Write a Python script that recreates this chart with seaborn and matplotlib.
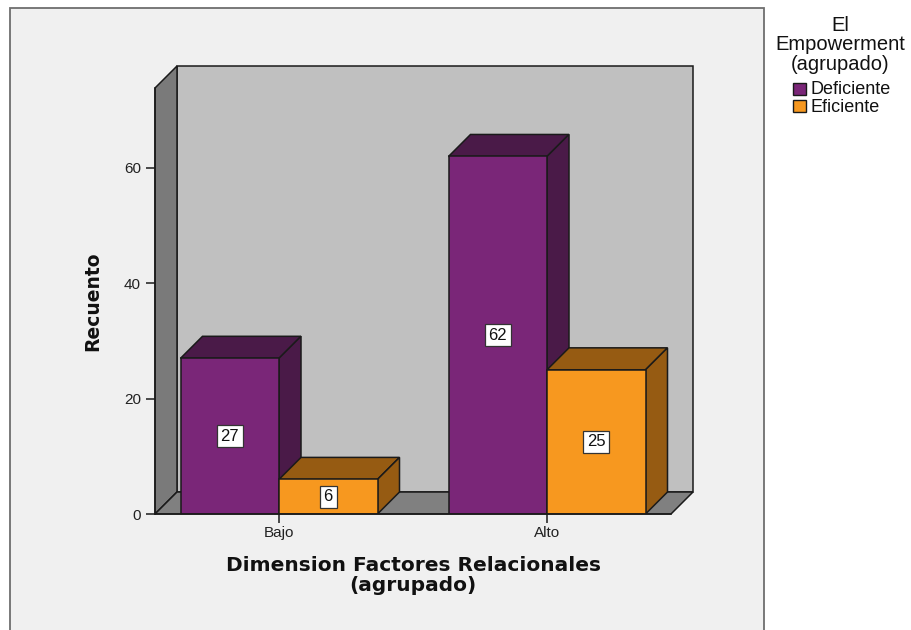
import matplotlib
matplotlib.use("Agg")
import matplotlib.pyplot as plt
from matplotlib.patches import Polygon, Rectangle
import seaborn as sns
import pandas as pd

# Counts per relational-factors level, split by empowerment group
categories = ["Bajo", "Alto"]
groups = ["Deficiente", "Eficiente"]
deficiente = [27, 62]
eficiente = [6, 25]
y_ticks = [0, 20, 40, 60]

front_colors = {"Deficiente": "#7A2678", "Eficiente": "#F7981F"}
shade_colors = {"Deficiente": "#4A1A48", "Eficiente": "#965B12"}

df = pd.DataFrame({
    "Dimension": categories * 2,
    "Grupo": [groups[0]] * 2 + [groups[1]] * 2,
    "Recuento": deficiente + eficiente,
})

sns.set_theme(style="white")
plt.rcParams["font.family"] = ["Liberation Sans", "DejaVu Sans"]

W, H = 912, 630
fig = plt.figure(figsize=(W / 100, H / 100), dpi=100)
fig.patch.set_facecolor("white")

# light panel behind the chart
panel = Rectangle((10 / W, -0.05), (764 - 10) / W, (H - 8) / H + 0.05,
                  transform=fig.transFigure, facecolor="#F0F0F0",
                  edgecolor="#6E6E6E", linewidth=1.3, zorder=-5)
fig.patches.append(panel)

# axes box: front plane x 155..671 px, y 514 (zero) up to back wall top 66 px
ax = fig.add_axes([155 / W, (H - 514) / H, (693 - 155) / W, (514 - 66) / H])
ax.set_facecolor("none")
ax.set_zorder(2)

px_per_x = 268.0          # pixels per category step
px_per_y = (514 - 168) / 60.0
x0 = -124 / px_per_x
x1 = 1 + 124 / px_per_x
ytop = (514 - 88) / px_per_y
dx = 22 / px_per_x
dy = 22 / px_per_y

edge = "#1A1A1A"
lw = 1.1

sns.barplot(data=df, x="Dimension", y="Recuento", hue="Grupo", order=categories,
            hue_order=groups, palette=front_colors, width=197 / px_per_x, gap=0,
            saturation=1, edgecolor=edge, linewidth=lw, ax=ax, legend=False, zorder=3)

ax.set_xlim(x0, x0 + (693 - 155) / px_per_x)
ax.set_ylim(0, (514 - 66) / px_per_y)

# back wall, side wall and floor
ax.add_patch(Polygon([(x0 + dx, dy), (x1 + dx, dy), (x1 + dx, ytop + dy), (x0 + dx, ytop + dy)],
                     closed=True, facecolor="#C0C0C0", edgecolor=edge, lw=lw, zorder=1, clip_on=False))
ax.add_patch(Polygon([(x0, 0), (x0 + dx, dy), (x0 + dx, ytop + dy), (x0, ytop)],
                     closed=True, facecolor="#7A7A7A", edgecolor=edge, lw=lw, zorder=1, clip_on=False))
ax.add_patch(Polygon([(x0, 0), (x1, 0), (x1 + dx, dy), (x0 + dx, dy)],
                     closed=True, facecolor="#808080", edgecolor=edge, lw=lw, zorder=1, clip_on=False))

# draw the top and side faces of each bar, then its value label
bars = [p for p in ax.patches if isinstance(p, Rectangle)]
series = [g for g in groups for _ in categories]
for bar, grp in zip(bars, series):
    bx, bw, bh = bar.get_x(), bar.get_width(), bar.get_height()
    z = 2 if grp == "Deficiente" else 4
    bar.set_zorder(z + 0.5)
    ax.add_patch(Polygon([(bx, bh), (bx + dx, bh + dy), (bx + bw + dx, bh + dy), (bx + bw, bh)],
                         closed=True, facecolor=shade_colors[grp], edgecolor=edge, lw=lw, zorder=z))
    ax.add_patch(Polygon([(bx + bw, 0), (bx + bw + dx, dy), (bx + bw + dx, bh + dy), (bx + bw, bh)],
                         closed=True, facecolor=shade_colors[grp], edgecolor=edge, lw=lw, zorder=z))
    ax.text(bx + bw / 2, bh / 2, f"{int(bh)}", ha="center", va="center", fontsize=12,
            color="#111111", zorder=z + 1,
            bbox=dict(boxstyle="square,pad=0.22", facecolor="white", edgecolor="#333333", lw=0.9))

for side in ["top", "right"]:
    ax.spines[side].set_visible(False)
ax.spines["left"].set_bounds(0, ytop)
ax.spines["left"].set_position(("data", x0))
ax.spines["bottom"].set_bounds(x0, x1)
for side in ["left", "bottom"]:
    ax.spines[side].set_color(edge)
    ax.spines[side].set_linewidth(lw)
    ax.spines[side].set_zorder(6)

ax.set_yticks(y_ticks)
ax.set_xticks(range(len(categories)))
ax.set_xticklabels(categories)
ax.tick_params(axis="both", which="both", direction="out", length=6.5, width=1.1,
               color=edge, labelsize=11, labelcolor="#222222", pad=2,
               left=True, bottom=True)
ax.tick_params(axis="y", pad=3.5)
ax.set_xlabel("Dimension Factores Relacionales\n(agrupado)", fontsize=14.5, fontweight="bold",
              family=["DejaVu Sans"], labelpad=12, linespacing=1.05, color="#111111")
ax.set_ylabel("Recuento", fontsize=13.5, fontweight="bold", family=["DejaVu Sans"],
              labelpad=16, color="#111111")
# centre the axis titles on the front plane of the box
ax.xaxis.label.set_x((413 - 155) / (693 - 155))
ax.yaxis.label.set_y((514 - 301) / (514 - 66))

# legend block at the top right
fig.text(840 / W, 1 - 45 / H, "El\nEmpowerment\n(agrupado)", ha="center", va="center",
         fontsize=14.5, linespacing=1.05, color="#111111")
for i, grp in enumerate(groups):
    yc = 89 + 17 * i
    fig.patches.append(Rectangle((793 / W, 1 - (yc + 6) / H), 13 / W, 12 / H,
                                 transform=fig.transFigure, facecolor=front_colors[grp],
                                 edgecolor=edge, lw=1.0))
    fig.text(811 / W, 1 - (yc + 1) / H, grp, ha="left", va="center", fontsize=13, color="#111111")

fig.savefig("out.png", dpi=100, facecolor="white")
